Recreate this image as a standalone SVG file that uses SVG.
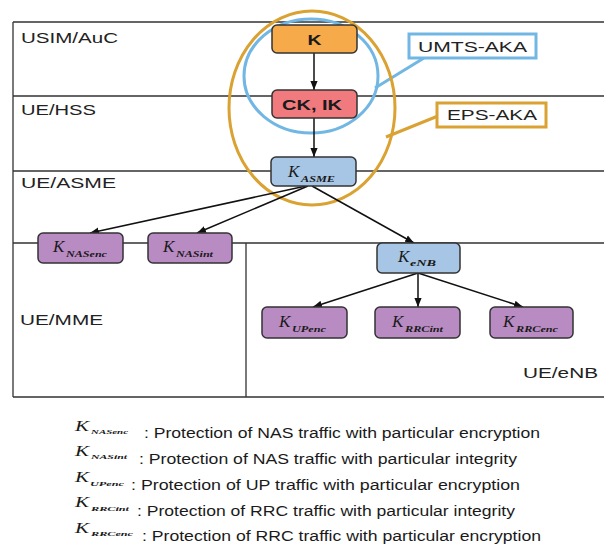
<svg xmlns="http://www.w3.org/2000/svg" width="604" height="547" viewBox="0 0 604 547">
<style>
.lane{stroke:#333;stroke-width:1.3;fill:none}
.lbl{font-family:"Liberation Sans",Arial,sans-serif;font-size:15px;fill:#222}
.box{stroke:#333;stroke-width:1.5}
.orange{fill:#F6AA4A}
.red{fill:#F07A7E}
.blue{fill:#A7C6E5}
.purple{fill:#B98BC3}
.bold{font-family:"Liberation Sans",Arial,sans-serif;font-size:15px;font-weight:bold;fill:#1a1a1a;text-anchor:middle}
.k{font-family:"Liberation Serif","Times New Roman",serif;font-style:italic;font-size:17px;fill:#1a1a1a}
.sub{font-family:"Liberation Serif","Times New Roman",serif;font-style:italic;font-weight:bold;font-size:8px;fill:#1a1a1a}
.lk{font-family:"Liberation Serif","Times New Roman",serif;font-style:italic;font-size:15px;fill:#1a1a1a}
.lsub{font-family:"Liberation Serif","Times New Roman",serif;font-style:italic;font-weight:bold;font-size:7px;fill:#1a1a1a}
.leg{font-family:"Liberation Sans",Arial,sans-serif;font-size:14px;fill:#1a1a1a}
.conn{stroke:#111;stroke-width:1.5;fill:none;marker-end:url(#arr)}
</style>
<defs>
<marker id="arr" viewBox="0 0 10 8" refX="10" refY="4" markerWidth="9" markerHeight="8" markerUnits="userSpaceOnUse" orient="auto">
<path d="M0,0 L10,4 L0,8 z" fill="#111"/>
</marker>
</defs>
<rect width="604" height="547" fill="#fff"/>
<g id="lanes">
<path class="lane" d="M13,22 V397 M13,22 H604 M13,96 H604 M13,171 H604 M13,243 H604 M13,397 H604 M246,243 V397"/>
<text class="lbl" x="21" y="43" textLength="97" lengthAdjust="spacingAndGlyphs">USIM/AuC</text>
<text class="lbl" x="21" y="115" textLength="75" lengthAdjust="spacingAndGlyphs">UE/HSS</text>
<text class="lbl" x="21" y="188" textLength="95" lengthAdjust="spacingAndGlyphs">UE/ASME</text>
<text class="lbl" x="20" y="325" textLength="83" lengthAdjust="spacingAndGlyphs">UE/MME</text>
<text class="lbl" x="523" y="378" textLength="75" lengthAdjust="spacingAndGlyphs">UE/eNB</text>
</g>
<g id="umts-aka">
<ellipse cx="311" cy="76" rx="67" ry="57" fill="none" stroke="#72B7E3" stroke-width="3"/>
<path d="M375,88 L424,58" stroke="#72B7E3" stroke-width="3" fill="none"/>
<rect x="409" y="34" width="127" height="24" fill="#fff" stroke="#72B7E3" stroke-width="3"/>
<text class="lbl" x="418" y="52" textLength="109" lengthAdjust="spacingAndGlyphs">UMTS-AKA</text>
</g>
<g id="eps-aka">
<ellipse cx="312" cy="108" rx="83" ry="97" fill="none" stroke="#DAA232" stroke-width="3"/>
<path d="M386,137 L438,116" stroke="#DAA232" stroke-width="3" fill="none"/>
<rect x="437" y="103" width="109" height="24" fill="#fff" stroke="#DAA232" stroke-width="3"/>
<text class="lbl" x="447" y="120" textLength="90" lengthAdjust="spacingAndGlyphs">EPS-AKA</text>
</g>
<g id="connectors">
<path class="conn" d="M314,53 L314,90"/>
<path class="conn" d="M314,118 L314,157"/>
<path class="conn" d="M306,186 L90,233"/>
<path class="conn" d="M308,186 L197,233"/>
<path class="conn" d="M312,186 L414,243"/>
<path class="conn" d="M418,273 L313,307"/>
<path class="conn" d="M418,273 L418,307"/>
<path class="conn" d="M418,273 L523,307"/>
</g>
<g id="node-K">
<rect class="box orange" x="272" y="25" width="85" height="28" rx="5"/>
<text class="bold" x="314.5" y="44.5" textLength="14" lengthAdjust="spacingAndGlyphs">K</text>
</g>
<g id="node-CKIK">
<rect class="box red" x="272" y="90" width="85" height="28" rx="5"/>
<text class="bold" x="312" y="109.5" textLength="60" lengthAdjust="spacingAndGlyphs">CK, IK</text>
</g>
<g id="node-KASME">
<rect class="box blue" x="271" y="157" width="85" height="29" rx="5"/>
<text class="k" x="288" y="177">K</text><text class="sub" x="301" y="182" textLength="34" lengthAdjust="spacingAndGlyphs">ASME</text>
</g>
<g id="node-KNASenc">
<rect class="box purple" x="38" y="233" width="85" height="30" rx="5"/>
<text class="k" x="53" y="252">K</text><text class="sub" x="66" y="257" textLength="41" lengthAdjust="spacingAndGlyphs">NASenc</text>
</g>
<g id="node-KNASint">
<rect class="box purple" x="148" y="233" width="84" height="30" rx="5"/>
<text class="k" x="163" y="252">K</text><text class="sub" x="176" y="257" textLength="37" lengthAdjust="spacingAndGlyphs">NASint</text>
</g>
<g id="node-KeNB">
<rect class="box blue" x="377" y="243" width="83" height="30" rx="5"/>
<text class="k" x="398" y="262">K</text><text class="sub" x="410" y="266" textLength="26" lengthAdjust="spacingAndGlyphs">eNB</text>
</g>
<g id="node-KUPenc">
<rect class="box purple" x="262" y="307" width="85" height="31" rx="5"/>
<text class="k" x="279" y="327">K</text><text class="sub" x="292" y="332" textLength="34" lengthAdjust="spacingAndGlyphs">UPenc</text>
</g>
<g id="node-KRRCint">
<rect class="box purple" x="375" y="307" width="85" height="31" rx="5"/>
<text class="k" x="392" y="327">K</text><text class="sub" x="405" y="332" textLength="38" lengthAdjust="spacingAndGlyphs">RRCint</text>
</g>
<g id="node-KRRCenc">
<rect class="box purple" x="490" y="307" width="83" height="31" rx="5"/>
<text class="k" x="503" y="327">K</text><text class="sub" x="516" y="332" textLength="42" lengthAdjust="spacingAndGlyphs">RRCenc</text>
</g>
<g id="legend">
<text class="lk" x="75" y="431" textLength="14" lengthAdjust="spacingAndGlyphs">K</text>
<text class="lsub" x="91" y="434" textLength="37" lengthAdjust="spacingAndGlyphs">NASenc</text>
<text class="leg" x="144" y="438" textLength="396" lengthAdjust="spacingAndGlyphs">: Protection of NAS traffic with particular encryption</text>
<text class="lk" x="75" y="456" textLength="14" lengthAdjust="spacingAndGlyphs">K</text>
<text class="lsub" x="91" y="459" textLength="36" lengthAdjust="spacingAndGlyphs">NASint</text>
<text class="leg" x="139" y="463.5" textLength="378" lengthAdjust="spacingAndGlyphs">: Protection of NAS traffic with particular integrity</text>
<text class="lk" x="75" y="482" textLength="14" lengthAdjust="spacingAndGlyphs">K</text>
<text class="lsub" x="90" y="486" textLength="34" lengthAdjust="spacingAndGlyphs">UPenc</text>
<text class="leg" x="131" y="489.5" textLength="389" lengthAdjust="spacingAndGlyphs">: Protection of UP traffic with particular encryption</text>
<text class="lk" x="75" y="507" textLength="14" lengthAdjust="spacingAndGlyphs">K</text>
<text class="lsub" x="91" y="511" textLength="38" lengthAdjust="spacingAndGlyphs">RRCint</text>
<text class="leg" x="137" y="515.5" textLength="378" lengthAdjust="spacingAndGlyphs">: Protection of RRC traffic with particular integrity</text>
<text class="lk" x="75" y="533" textLength="14" lengthAdjust="spacingAndGlyphs">K</text>
<text class="lsub" x="91" y="536" textLength="42" lengthAdjust="spacingAndGlyphs">RRCenc</text>
<text class="leg" x="142" y="541" textLength="399" lengthAdjust="spacingAndGlyphs">: Protection of RRC traffic with particular encryption</text>
</g>
</svg>
